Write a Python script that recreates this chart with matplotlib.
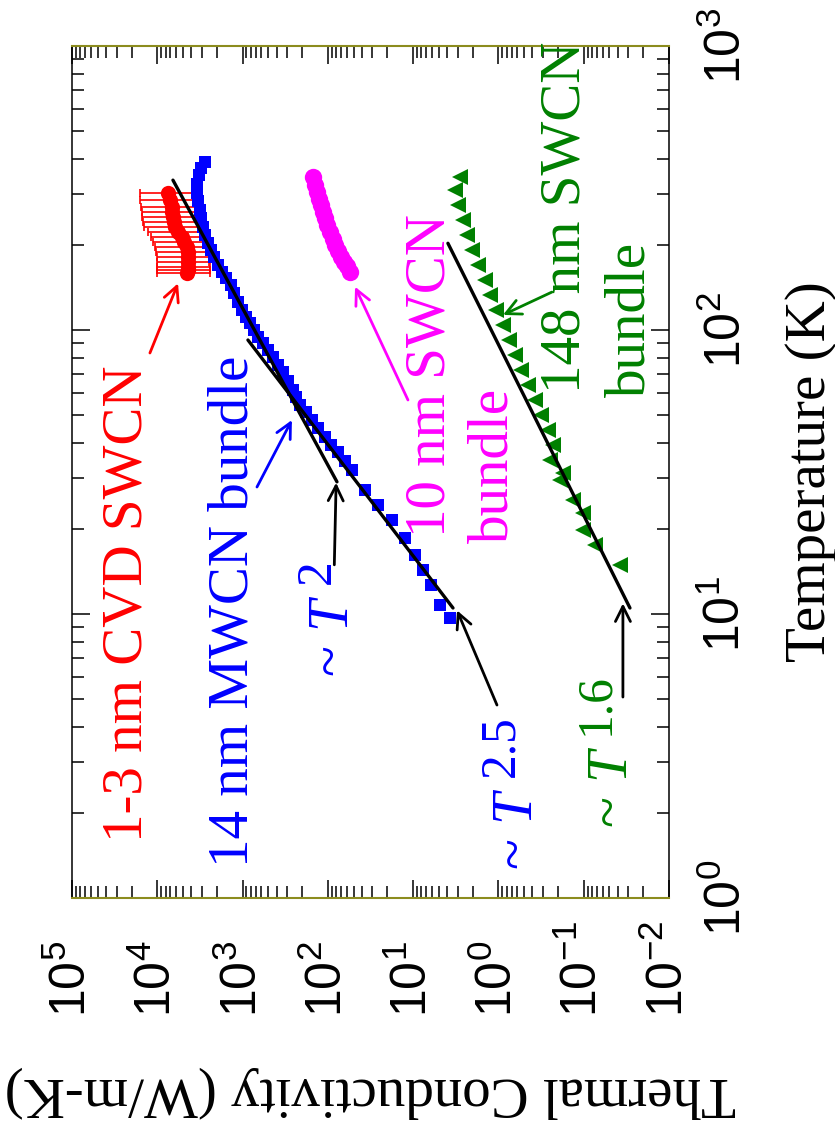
import numpy as np
import matplotlib.pyplot as plt
from matplotlib.ticker import LogLocator, NullFormatter

# the whole figure is drawn turned 90 degrees: conductivity runs along the
# horizontal axis (decreasing to the right), temperature along the vertical one
plt.rcParams['font.family'] = 'Liberation Serif'
plt.rcParams['mathtext.fontset'] = 'custom'
plt.rcParams['mathtext.rm'] = 'Liberation Serif'
plt.rcParams['mathtext.it'] = 'Liberation Serif:italic'
plt.rcParams['mathtext.default'] = 'regular'

# 1-3 nm CVD SWCN (red circles with error bars)
red_T = [304, 287, 271, 260, 250, 240, 230, 221, 213, 204, 196, 188, 181, 174, 167, 163, 159]
red_k = [7500, 7100, 6730, 6650, 6550, 6400, 6200, 5700, 5130, 4800, 4490, 4420, 4370, 4370,
         4370, 4420, 4490]
red_k_hi = [16000, 16000, 15500, 15200, 15000, 14800, 14500, 13000, 12000, 11200, 10500,
            10300, 10100, 10100, 10100, 10100, 10100]
red_k_lo = [3430, 3400, 3300, 3230, 3160, 3080, 3000, 2900, 2800, 2700, 2610, 2560, 2500,
            2450, 2410, 2410, 2410]

# 14 nm MWCN bundle (blue squares)
blue_T = [390.6, 372, 351.4, 327, 303.7, 285, 264.7, 248, 230.5, 216,
          202.4, 191, 180.7, 169, 160, 152, 144, 135, 125.5, 118,
          111.1, 106, 100, 94.5, 90, 85.1, 80.4, 75.3, 71.1, 66.1,
          61.5, 58.1, 54.4, 51.4, 48.2, 45.2, 42, 39.4, 37.2, 34.6,
          32.1, 27.3, 24.2, 21.4, 18.5, 16.1, 14.3, 12.6, 10.8, 9.7]
blue_k = [2760, 3076, 3245, 3428, 3425, 3335, 3157, 3076, 2911, 2762,
          2545, 2344, 2163, 1941, 1745, 1566, 1368, 1262, 1132, 1016,
          912, 819, 735, 660, 577, 503, 440, 384, 336, 294,
          256, 237, 212, 181, 153, 131, 108, 92, 76, 63,
          52, 36.7, 25.9, 17.7, 12.5, 9.5, 7.7, 6.2, 4.85, 3.7]

# 10 nm SWCN bundle (magenta circles)
mag_T = [346, 324, 306, 289, 275, 260, 248, 234, 221, 209, 199, 190, 181, 173, 168, 160]
mag_k = [150, 142, 134, 127, 120, 114, 108, 103, 94.5, 87, 82.6, 76, 70.2, 65, 59.7, 55]

# 148 nm SWCN bundle (green triangles)
grn_T = [346, 311, 275, 244, 216, 191, 169, 150, 133, 118,
         104, 92.2, 81.7, 72.3, 64.0, 56.7, 50.2, 44.5, 39.4, 34.8,
         31.4, 29.6, 25.2, 22.7, 19.8, 17.5, 14.9]
grn_k = [2.83, 3.24, 2.98, 2.61, 2.34, 2.05, 1.74, 1.44, 1.26, 1.07,
         0.885, 0.753, 0.641, 0.545, 0.451, 0.373, 0.318, 0.263, 0.230, 0.249,
         0.175, 0.190, 0.134, 0.102, 0.102, 0.074, 0.0377]

# power law guide lines (end points)
fit2_T = [337, 29.2]
fit2_k = [6550, 78.2]
fit25_T = [92.2, 10.5]
fit25_k = [865, 3.41]
fit16_T = [202, 10.5]
fit16_k = [3.91, 0.0287]

k_ticks = [1e5, 1e4, 1e3, 1e2, 1e1, 1e0, 1e-1, 1e-2]
k_labels = ['$10^{5}$', '$10^{4}$', '$10^{3}$', '$10^{2}$', '$10^{1}$',
            '$10^{0}$', '$10^{-1}$', '$10^{-2}$']
T_ticks = [1, 10, 100, 1000]
T_labels = ['$10^{0}$', '$10^{1}$', '$10^{2}$', '$10^{3}$']

olive = '#8c8c1e'
green = '#008000'

fig = plt.figure(figsize=(8.35, 11.35), dpi=100)
ax = fig.add_axes([72 / 835, 1 - 898 / 1135, 597 / 835, 852 / 1135])
ax.set_xscale('log')
ax.set_yscale('log')

# data
ax.errorbar(red_k, red_T, xerr=[np.subtract(red_k, red_k_lo), np.subtract(red_k_hi, red_k)],
            fmt='none', ecolor='red', elinewidth=1.2, capsize=3, capthick=1.2)
ax.plot(red_k, red_T, 'o', color='red', ms=11, mew=0)
ax.plot(blue_k, blue_T, 's', color='blue', ms=8.5, mew=0)
ax.plot(mag_k, mag_T, 'o', color='magenta', ms=12.5, mew=0)
ax.plot(grn_k, grn_T, '<', color=green, ms=12, mew=0)

for fk, fT in [(fit2_k, fit2_T), (fit25_k, fit25_T), (fit16_k, fit16_T)]:
    ax.plot(fk, fT, '-', color='black', lw=2.4, solid_capstyle='round')

# arrows (head, tail, colour)
arrows = [((5710, 146), (12200, 83), 'red'),
          ((264, 48.2), (678, 28.0), 'blue'),
          ((48, 142), (11.5, 56.7), 'magenta'),
          ((0.885, 113), (0.236, 136), green),
          ((80, 29), (84, 14.9), 'black'),
          ((3.06, 10.3), (1.04, 4.78), 'black'),
          ((0.0347, 10.9), (0.0347, 5.1), 'black')]
for head, tail, c in arrows:
    ax.annotate('', xy=head, xytext=tail,
                arrowprops=dict(arrowstyle='->', color=c, lw=2,
                                mutation_scale=27, shrinkA=0, shrinkB=0))

fs = 41
labels = [(22600, 1.57, '1-3 nm CVD SWCN', 'red'),
          (1262, 1.285, '14 nm MWCN bundle', 'blue'),
          (6.18, 18.7, '10 nm SWCN', 'magenta'),
          (1.13, 17.8, 'bundle', 'magenta'),
          (0.162, 60, '148 nm SWCN', green),
          (0.0287, 58, 'bundle', green)]
for k, T, s, c in labels:
    ax.text(k, T, s, color=c, fontsize=fs, rotation=90, ha='center', va='bottom')

# power law labels: "~ T" plus a large raised exponent
powers = [(84, 6.0, '2', 'blue'),
          (0.59, 1.255, '2.5', 'blue'),
          (0.0455, 1.76, '1.6', green)]
for k, T, p, c in powers:
    base = ax.text(k, T, r'~ $\mathit{T}$', color=c, fontsize=fs, rotation=90,
                   ha='center', va='bottom')
    ax.annotate(p, xy=(0, 1), xycoords=base, xytext=(-10, 8), textcoords='offset points',
                color=c, fontsize=fs * 0.87, rotation=90, ha='left', va='bottom')

ax.set_xlim(1e5, 1e-2)
ax.set_ylim(1, 1e3)

ax.xaxis.set_minor_locator(LogLocator(base=10, subs=np.arange(2, 10), numticks=30))
ax.yaxis.set_minor_locator(LogLocator(base=10, subs=np.arange(2, 10), numticks=30))
ax.xaxis.set_minor_formatter(NullFormatter())
ax.yaxis.set_minor_formatter(NullFormatter())
ax.set_xticks(k_ticks, k_labels, fontfamily='Liberation Sans', fontsize=36)
ax.set_yticks(T_ticks, T_labels, fontfamily='Liberation Sans', fontsize=36)

ax.tick_params(which='both', direction='in', top=True, bottom=True, left=True, right=True,
               labelleft=False, labelright=True, labeltop=False, labelbottom=True)
ax.tick_params(which='major', length=13, width=1.1)
ax.tick_params(which='minor', length=8.5, width=1.1)
ax.tick_params(axis='x', pad=86, labelrotation=90)
ax.tick_params(axis='y', pad=24.5, labelrotation=90)
for t in ax.get_xticklabels():
    t.set_verticalalignment('bottom')
for t in ax.get_yticklabels():
    t.set_verticalalignment('center')

for side in ['left', 'right']:
    ax.spines[side].set_color('black')
    ax.spines[side].set_linewidth(1.1)
for side in ['top', 'bottom']:
    ax.spines[side].set_color(olive)
    ax.spines[side].set_linewidth(1.5)

ax.set_xlabel('Thermal Conductivity (W/m-K)', fontsize=41, rotation=180, va='center', ha='center')
ax.xaxis.set_label_coords(0.5, -0.2277)
ax.yaxis.set_label_position('right')
ax.set_ylabel('Temperature (K)', fontsize=41, rotation=90, va='center', ha='center')
ax.yaxis.set_label_coords(1.238, 0.5)

fig.savefig('out.png', dpi=100)
